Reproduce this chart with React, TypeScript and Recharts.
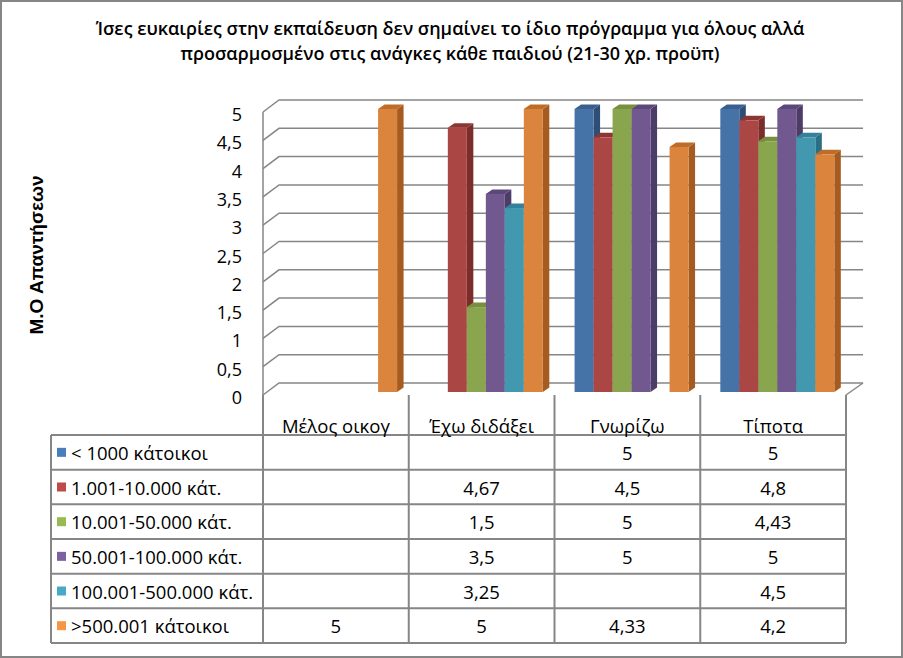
import React from 'react';
import { BarChart, Bar, XAxis, YAxis, CartesianGrid, Customized } from 'recharts';

// ---------- data ----------
const categories = ['Μέλος οικογ', 'Έχω διδάξει', 'Γνωρίζω', 'Τίποτα'];
const seriesNames = [
  '< 1000 κάτοικοι',
  '1.001-10.000 κάτ.',
  '10.001-50.000 κάτ.',
  '50.001-100.000 κάτ.',
  '100.001-500.000 κάτ.',
  '>500.001 κάτοικοι',
];
const s1: (number | null)[] = [null, null, 5, 5];
const s2: (number | null)[] = [null, 4.67, 4.5, 4.8];
const s3: (number | null)[] = [null, 1.5, 5, 4.43];
const s4: (number | null)[] = [null, 3.5, 5, 5];
const s5: (number | null)[] = [null, 3.25, null, 4.5];
const s6: (number | null)[] = [5, 5, 4.33, 4.2];
const seriesValues = [s1, s2, s3, s4, s5, s6];
const yTicks = [0, 0.5, 1, 1.5, 2, 2.5, 3, 3.5, 4, 4.5, 5];
const titleLines = [
  'Ίσες ευκαιρίες στην εκπαίδευση δεν σημαίνει το ίδιο πρόγραμμα για όλους αλλά',
  'προσαρμοσμένο στις ανάγκες κάθε παιδιού (21-30 χρ. προϋπ)',
];
const yAxisTitle = 'Μ.Ο  Απαντήσεων';

// ---------- styles ----------
const frontColors = ['#4572A7', '#AA4643', '#89A54E', '#71588F', '#4198AF', '#DB843D'];
const sideColors = ['#2E4E76', '#7A2D2A', '#657F37', '#4E3C68', '#2A6F83', '#A65C20'];
const topColors = ['#385F8E', '#8E3532', '#76903F', '#5D477A', '#33819A', '#BE6C28'];
const keyColors = ['#4A7EBB', '#BE4B48', '#98B954', '#7D60A0', '#46AAC5', '#F69546'];

const W = 903;
const H = 658;
const PLOT_LEFT = 263;
const PLOT_RIGHT = 846;
const PLOT_TOP = 109;
const PLOT_BOTTOM = 392;
const YAXIS_W = 40;
const XAXIS_H = 30;
const DEPTH_X = 6.5;
const DEPTH_Y = 4.5;
const SHIFT = 5.5;
const WALL_DX = 16;
const WALL_DY = 12;
const LINE = '#868686';
const FONT = '"Open Sans", "Noto Sans", sans-serif';
const TABLE_FS = 18.5;

const TABLE_LEFT = 51;
const HEADER_TOP = 395;
const ROW_TOP = 435;
const ROW_H = 34.67;

const fmt = (v: number) => String(v).replace('.', ',');

const chartData = categories.map((name, ci) => {
  const row: Record<string, any> = { name };
  seriesValues.forEach((arr, si) => {
    row[`s${si}`] = arr[ci];
  });
  return row;
});

const Bar3D = (props: any) => {
  const { x, y, width, height, idx } = props;
  if (height == null || !(height > 0) || x == null) return <g />;
  const fx = x + SHIFT;
  const front = frontColors[idx];
  return (
    <g>
      <polygon
        points={`${fx + width},${y} ${fx + width + DEPTH_X},${y - DEPTH_Y} ${fx + width + DEPTH_X},${y + height - DEPTH_Y} ${fx + width},${y + height}`}
        fill={sideColors[idx]}
      />
      <polygon
        points={`${fx},${y} ${fx + DEPTH_X},${y - DEPTH_Y} ${fx + width + DEPTH_X},${y - DEPTH_Y} ${fx + width},${y}`}
        fill={topColors[idx]}
      />
      <rect x={fx} y={y} width={width} height={height} fill={front} />
    </g>
  );
};

const GridLine = (props: any) => {
  const { x1, x2, y1 } = props;
  const yf = y1 + 3;
  return (
    <path
      d={`M${x1},${yf} L${x1 + WALL_DX},${yf - WALL_DY} L${x2 + WALL_DX + 1},${yf - WALL_DY}`}
      stroke={LINE}
      strokeWidth={1.5}
      fill="none"
    />
  );
};

const YTick = (props: any) => {
  const { y, payload } = props;
  return (
    <text
      x={PLOT_LEFT - 21}
      y={y + 5}
      textAnchor="end"
      dominantBaseline="central"
      fontFamily={FONT}
      fontSize={18}
      fill="#000"
    >
      {fmt(payload.value)}
    </text>
  );
};

const XTick = (props: any) => {
  const { x, payload } = props;
  return (
    <text
      x={x}
      y={HEADER_TOP + 30}
      textAnchor="middle"
      dominantBaseline="central"
      fontFamily={FONT}
      fontSize={TABLE_FS}
      fill="#000"
    >
      {payload.value}
    </text>
  );
};

const Decor = () => {
  const band = (PLOT_RIGHT - PLOT_LEFT) / categories.length;
  const tableBottom = ROW_TOP + ROW_H * seriesNames.length;
  const lines: React.ReactNode[] = [];
  for (let r = 0; r <= seriesNames.length; r++) {
    const yy = ROW_TOP + r * ROW_H;
    lines.push(
      <line key={`h${r}`} x1={TABLE_LEFT} x2={PLOT_RIGHT} y1={yy} y2={yy} stroke={LINE} strokeWidth={2} />
    );
  }
  lines.push(
    <line key="vl" x1={TABLE_LEFT} x2={TABLE_LEFT} y1={ROW_TOP} y2={tableBottom} stroke={LINE} strokeWidth={2} />
  );
  for (let c = 0; c <= categories.length; c++) {
    const xx = PLOT_LEFT + c * band;
    lines.push(
      <line key={`v${c}`} x1={xx} x2={xx} y1={HEADER_TOP} y2={tableBottom} stroke={LINE} strokeWidth={2} />
    );
  }
  return (
    <g>
      <rect x={1} y={1} width={W - 2} height={H - 2} fill="none" stroke={LINE} strokeWidth={2} />
      {titleLines.map((t, i) => (
        <text
          key={i}
          x={450}
          y={35 + i * 25}
          textAnchor="middle"
          fontFamily={FONT}
          fontWeight={600}
          fontSize={18}
          fill="#000"
        >
          {t}
        </text>
      ))}
      <text
        x={0}
        y={0}
        transform={`translate(43,255) rotate(-90)`}
        textAnchor="middle"
        fontFamily='"Liberation Sans", Arial, sans-serif'
        fontWeight="bold"
        fontSize={19}
        fill="#000"
      >
        {yAxisTitle}
      </text>
      <line x1={PLOT_LEFT} x2={PLOT_LEFT} y1={PLOT_TOP + 3} y2={PLOT_BOTTOM + 3} stroke={LINE} strokeWidth={1.5} />
      <line
        x1={PLOT_RIGHT}
        y1={PLOT_BOTTOM + 3}
        x2={PLOT_RIGHT + WALL_DX + 1}
        y2={PLOT_BOTTOM + 3 - WALL_DY}
        stroke={LINE}
        strokeWidth={1.5}
      />
      {lines}
      {seriesNames.map((name, r) => {
        const cy = ROW_TOP + r * ROW_H + ROW_H / 2;
        return (
          <g key={name}>
            <rect x={57} y={cy - 4.5} width={9} height={9} fill={keyColors[r]} />
            <text x={71} y={cy} dominantBaseline="central" fontFamily={FONT} fontSize={TABLE_FS} fill="#000">
              {name}
            </text>
            {seriesValues[r].map((v, c) =>
              v == null ? null : (
                <text
                  key={c}
                  x={PLOT_LEFT + c * band + band / 2}
                  y={cy}
                  textAnchor="middle"
                  dominantBaseline="central"
                  fontFamily={FONT}
                  fontSize={TABLE_FS}
                  fill="#000"
                >
                  {fmt(v)}
                </text>
              )
            )}
          </g>
        );
      })}
    </g>
  );
};

export default function App() {
  return (
    <div style={{ width: W, height: H, background: '#fff' }}>
      <style>{`body{margin:0;}`}</style>
      <BarChart
        width={W}
        height={H}
        data={chartData}
        margin={{
          top: PLOT_TOP,
          right: W - PLOT_RIGHT,
          bottom: H - PLOT_BOTTOM - XAXIS_H,
          left: PLOT_LEFT - YAXIS_W,
        }}
        barCategoryGap="10%"
        barGap={0}
      >
        <CartesianGrid vertical={false} horizontal={GridLine as any} />
        <XAxis
          dataKey="name"
          height={XAXIS_H}
          axisLine={false}
          tickLine={false}
          tick={<XTick />}
          interval={0}
        />
        <YAxis
          width={YAXIS_W}
          domain={[0, 5]}
          ticks={yTicks}
          axisLine={false}
          tickLine={false}
          tick={<YTick />}
          interval={0}
        />
        {seriesNames.map((n, i) => (
          <Bar
            key={n}
            dataKey={`s${i}`}
            name={n}
            fill={frontColors[i]}
            isAnimationActive={false}
            shape={(p: any) => <Bar3D {...p} idx={i} />}
          />
        ))}
        <Customized component={<Decor />} />
      </BarChart>
    </div>
  );
}
